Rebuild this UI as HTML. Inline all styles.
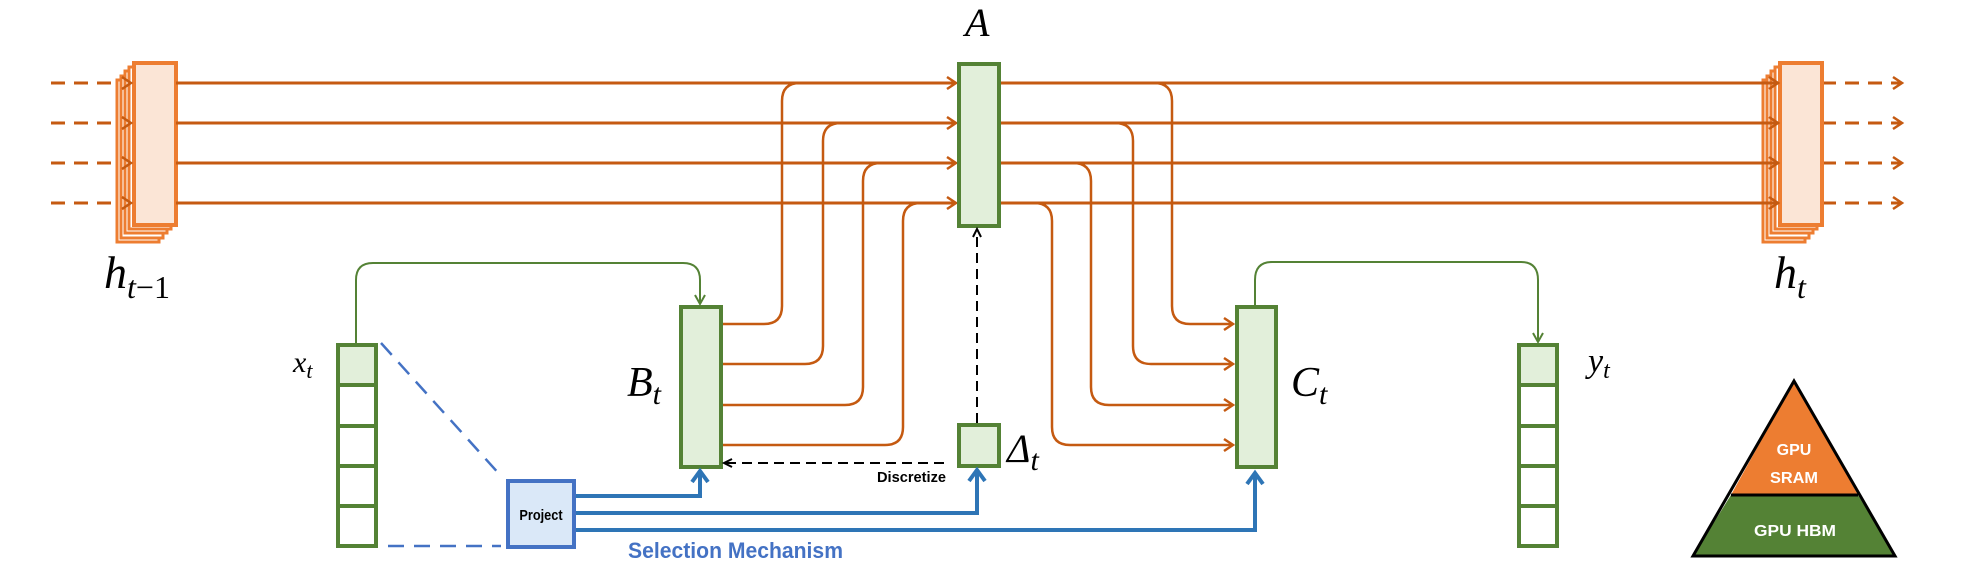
<!DOCTYPE html>
<html><head><meta charset="utf-8"><style>
html,body{margin:0;padding:0;background:#fff;}
svg{display:block;}
.m{font-family:"Liberation Serif",serif;font-style:italic;fill:#000;}
.b{font-family:"Liberation Sans",sans-serif;font-weight:bold;}
</style></head><body>
<svg width="1986" height="584" viewBox="0 0 1986 584" xmlns="http://www.w3.org/2000/svg">
<defs>
<marker id="ao" viewBox="0 0 10 10" refX="9" refY="5" markerWidth="5" markerHeight="5" orient="auto" markerUnits="userSpaceOnUse" style="overflow:visible">
</marker>
</defs>
<g fill="none" stroke="#c55a11" stroke-width="3">
<!-- left dashed inputs -->
<g stroke-dasharray="14,9">
<line x1="51" y1="83" x2="128" y2="83"/><line x1="51" y1="123" x2="128" y2="123"/><line x1="51" y1="163" x2="128" y2="163"/><line x1="51" y1="203" x2="128" y2="203"/>
<line x1="1822" y1="83" x2="1900" y2="83"/><line x1="1822" y1="123" x2="1900" y2="123"/><line x1="1822" y1="163" x2="1900" y2="163"/><line x1="1822" y1="203" x2="1900" y2="203"/>
</g>
</g>
<!-- h_{t-1} stack -->
<g stroke="#ed7d31" stroke-width="3" fill="#fff">
<rect x="117" y="80" width="42" height="162"/><rect x="121" y="76" width="42" height="162"/><rect x="125" y="71" width="42" height="162"/><rect x="129" y="67" width="42" height="162"/>
<rect x="134" y="63" width="42" height="162" fill="#fbe5d6" stroke-width="4"/>
<rect x="1763" y="80" width="42" height="162"/><rect x="1767" y="76" width="42" height="162"/><rect x="1771" y="71" width="42" height="162"/><rect x="1775" y="67" width="42" height="162"/>
<rect x="1780" y="63" width="42" height="162" fill="#fbe5d6" stroke-width="4"/>
</g>
<g fill="none" stroke="#c55a11" stroke-width="3">
<!-- arrowheads at left stack -->
<g stroke-width="2.5">
<polyline points="122,77 131,83 122,89"/><polyline points="122,117 131,123 122,129"/><polyline points="122,157 131,163 122,169"/><polyline points="122,197 131,203 122,209"/>
<polyline points="1893,77 1902,83 1893,89"/><polyline points="1893,117 1902,123 1893,129"/><polyline points="1893,157 1902,163 1893,169"/><polyline points="1893,197 1902,203 1893,209"/>
<polyline points="947,77 956,83 947,89"/><polyline points="947,117 956,123 947,129"/><polyline points="947,157 956,163 947,169"/><polyline points="947,197 956,203 947,209"/>
<polyline points="1769,77 1778,83 1769,89"/><polyline points="1769,117 1778,123 1769,129"/><polyline points="1769,157 1778,163 1769,169"/><polyline points="1769,197 1778,203 1769,209"/>
<polyline points="1224,318 1233,324 1224,330"/><polyline points="1224,358 1233,364 1224,370"/><polyline points="1224,399 1233,405 1224,411"/><polyline points="1224,439 1233,445 1224,451"/>
</g>
<line x1="176" y1="83" x2="955" y2="83"/><line x1="176" y1="123" x2="955" y2="123"/><line x1="176" y1="163" x2="955" y2="163"/><line x1="176" y1="203" x2="955" y2="203"/>
<line x1="1000" y1="83" x2="1777" y2="83"/><line x1="1000" y1="123" x2="1777" y2="123"/><line x1="1000" y1="163" x2="1777" y2="163"/><line x1="1000" y1="203" x2="1777" y2="203"/>
<g stroke-width="2.5">
<path d="M722 324 H764 Q782 324 782 306 V101 Q782 83 800 83"/>
<path d="M722 364 H805 Q823 364 823 346 V141 Q823 123 841 123"/>
<path d="M722 405 H845 Q863 405 863 387 V181 Q863 163 881 163"/>
<path d="M722 445 H885 Q903 445 903 427 V221 Q903 203 921 203"/>
<path d="M1154 83 Q1172 83 1172 101 V306 Q1172 324 1190 324 H1232"/>
<path d="M1115 123 Q1133 123 1133 141 V346 Q1133 364 1151 364 H1232"/>
<path d="M1073 163 Q1091 163 1091 181 V387 Q1091 405 1109 405 H1232"/>
<path d="M1034 203 Q1052 203 1052 221 V427 Q1052 445 1070 445 H1232"/>
</g>
</g>
<!-- green connectors -->
<g fill="none" stroke="#548235" stroke-width="2">
<path d="M356 343 V280 Q356 263 373 263 H683 Q700 263 700 280 V303"/>
<polyline points="695,295 700,304 705,295"/>
<path d="M1255 305 V280 Q1255 262 1272 262 H1521 Q1538 262 1538 280 V341"/>
<polyline points="1533,333 1538,342 1543,333"/>
</g>
<!-- green boxes -->
<g stroke="#548235" stroke-width="4" fill="#e2efda">
<rect x="959" y="64" width="40" height="162"/>
<rect x="681" y="307" width="40" height="160"/>
<rect x="1237" y="307" width="39" height="160"/>
<rect x="959" y="425" width="40" height="41"/>
<rect x="338" y="345" width="38" height="40"/>
<rect x="338" y="385" width="38" height="41" fill="#fff"/><rect x="338" y="426" width="38" height="40" fill="#fff"/><rect x="338" y="466" width="38" height="40" fill="#fff"/><rect x="338" y="506" width="38" height="40" fill="#fff"/>
<rect x="1519" y="345" width="38" height="40"/>
<rect x="1519" y="385" width="38" height="41" fill="#fff"/><rect x="1519" y="426" width="38" height="40" fill="#fff"/><rect x="1519" y="466" width="38" height="40" fill="#fff"/><rect x="1519" y="506" width="38" height="40" fill="#fff"/>
</g>
<!-- black dashed -->
<g fill="none" stroke="#000" stroke-width="2">
<line x1="977" y1="423" x2="977" y2="231" stroke-dasharray="10,6"/>
<polyline points="973,237 977,229 981,237"/>
<line x1="944" y1="463" x2="726" y2="463" stroke-dasharray="10,6"/>
<polyline points="732,459 724,463 732,467"/>
</g>
<!-- blue dashed -->
<g fill="none" stroke="#4472c4" stroke-width="2.5" stroke-dasharray="16,10">
<line x1="381" y1="343" x2="501" y2="476"/>
<line x1="388" y1="546" x2="501" y2="546"/>
</g>
<!-- blue arrows -->
<g fill="none" stroke="#2e75b6" stroke-width="4">
<path d="M574 496 H700 V472"/><polyline points="692,482 700,471 708,482"/>
<path d="M574 513 H977 V471"/><polyline points="969,481 977,470 985,481"/>
<path d="M574 530 H1255 V474"/><polyline points="1247,484 1255,473 1263,484"/>
</g>
<rect x="508" y="481" width="66" height="66" fill="#dae8f8" stroke="#4472c4" stroke-width="4"/>
<text x="541" y="520" text-anchor="middle" class="b" font-size="15" fill="#000" transform="translate(541 0) scale(0.85 1) translate(-541 0)">Project</text>
<text x="628" y="558" class="b" font-size="22" fill="#4472c4" textLength="215" lengthAdjust="spacingAndGlyphs">Selection Mechanism</text>
<text x="877" y="482" class="b" font-size="15" fill="#000" textLength="69" lengthAdjust="spacingAndGlyphs">Discretize</text>
<!-- triangle -->
<polygon points="1731,495 1794,381 1858,495" fill="#ed7d31"/>
<polygon points="1731,495 1858,495 1895,556 1693,556" fill="#548235"/>
<polygon points="1794,381 1895,556 1693,556" fill="none" stroke="#000" stroke-width="3"/>
<line x1="1731" y1="495" x2="1858" y2="495" stroke="#000" stroke-width="3"/>
<text x="1794" y="455" text-anchor="middle" class="b" font-size="16" fill="#fff">GPU</text>
<text x="1794" y="483" text-anchor="middle" class="b" font-size="16" fill="#fff" textLength="48" lengthAdjust="spacingAndGlyphs">SRAM</text>
<text x="1795" y="536" text-anchor="middle" class="b" font-size="16" fill="#fff" textLength="82" lengthAdjust="spacingAndGlyphs">GPU HBM</text>
<!-- math labels -->
<text x="965" y="36" class="m" font-size="40">A</text>
<text x="104" y="288" class="m" font-size="46">h<tspan font-size="32" dy="10">t</tspan><tspan font-size="32" font-style="normal">−1</tspan></text>
<text x="1774" y="288" class="m" font-size="46">h<tspan font-size="32" dy="10">t</tspan></text>
<text x="293" y="372" class="m" font-size="30">x<tspan font-size="22" dy="6">t</tspan></text>
<text x="1588" y="372" class="m" font-size="34">y<tspan font-size="24" dy="6">t</tspan></text>
<text x="627" y="396" class="m" font-size="42">B<tspan font-size="30" dy="8">t</tspan></text>
<text x="1291" y="396" class="m" font-size="42">C<tspan font-size="30" dy="8">t</tspan></text>
<text x="1007" y="462" class="m" font-size="40" font-style="normal">Δ<tspan font-style="italic" font-size="30" dy="8">t</tspan></text>
</svg>
</body></html>
